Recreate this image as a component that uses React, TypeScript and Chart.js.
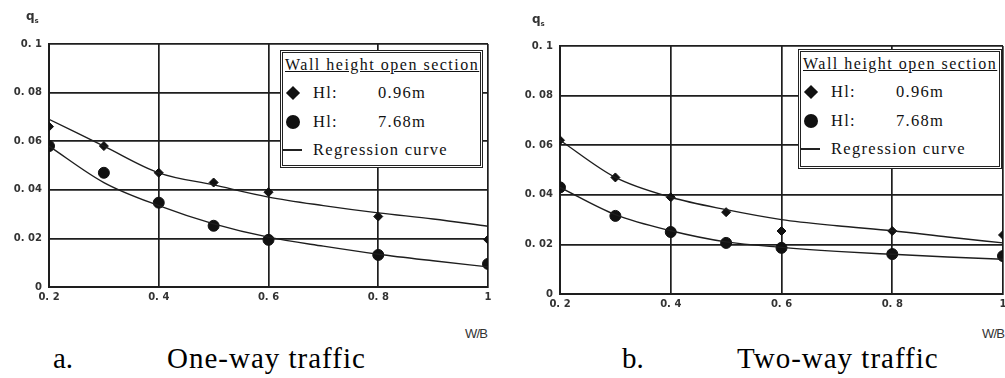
import React, { useEffect, useRef } from "react";
import { Chart, registerables } from "chart.js";
Chart.register(...registerables);

// ---- data ----
const xTicks = [0.2, 0.4, 0.6, 0.8, 1.0];
const xTickLabels = ["0. 2", "0. 4", "0. 6", "0. 8", "1"];
const yTicks = [0, 0.02, 0.04, 0.06, 0.08, 0.1];
const yTickLabels = ["0", "0. 02", "0. 04", "0. 06", "0. 08", "0. 1"];

const wb = [0.2, 0.3, 0.4, 0.5, 0.6, 0.8, 1.0];
const oneWayH096 = [0.066, 0.058, 0.047, 0.043, 0.039, 0.029, 0.0195];
const oneWayH768 = [0.058, 0.047, 0.0347, 0.0252, 0.0194, 0.0132, 0.0095];
const twoWayH096 = [0.062, 0.047, 0.039, 0.033, 0.0254, 0.0254, 0.0238];
const twoWayH768 = [0.043, 0.0315, 0.025, 0.0206, 0.0186, 0.0161, 0.0153];

const curveX = [0.2, 0.3, 0.4, 0.5, 0.6, 0.7, 0.8, 0.9, 1.0];
const oneWayFit096 = [0.069, 0.058, 0.047, 0.042, 0.037, 0.0335, 0.0305, 0.028, 0.025];
const oneWayFit768 = [0.058, 0.043, 0.0335, 0.026, 0.0205, 0.0168, 0.0135, 0.0108, 0.0083];
const twoWayFit096 = [0.062, 0.047, 0.039, 0.034, 0.030, 0.0275, 0.0255, 0.023, 0.0206];
const twoWayFit768 = [0.043, 0.032, 0.0255, 0.021, 0.0188, 0.0172, 0.016, 0.0149, 0.014];

const legendTitle = "Wall height open section";
const legendSeries = [
  { name: "Hl:", value: "0.96m" },
  { name: "Hl:", value: "7.68m" },
];
const legendCurve = "Regression curve";

const INK = "#1e1e1e";

type PanelProps = {
  h096: number[];
  h768: number[];
  fit096: number[];
  fit768: number[];
  left: number;
  width: number;
  height: number;
  axisW: number;
  top: number;
  xAxisH: number;
  right: number;
};

function ChartPanel(p: PanelProps) {
  const ref = useRef<HTMLCanvasElement | null>(null);
  useEffect(() => {
    if (!ref.current) return;
    const curve = (ys: number[]) => curveX.map((x, i) => ({ x, y: ys[i] }));
    const pts = (ys: number[]) => wb.map((x, i) => ({ x, y: ys[i] }));
    const chart = new Chart(ref.current, {
      type: "scatter",
      data: {
        datasets: [
          {
            label: "fit096",
            data: curve(p.fit096),
            showLine: true,
            pointRadius: 0,
            borderColor: INK,
            borderWidth: 1.4,
            tension: 0.4,
            cubicInterpolationMode: "monotone",
          },
          {
            label: "fit768",
            data: curve(p.fit768),
            showLine: true,
            pointRadius: 0,
            borderColor: INK,
            borderWidth: 1.4,
            tension: 0.4,
            cubicInterpolationMode: "monotone",
          },
          {
            label: "H 0.96m",
            data: pts(p.h096),
            showLine: false,
            pointStyle: "rectRot",
            pointRadius: 4.5,
            backgroundColor: "#111",
            borderColor: "#111",
          },
          {
            label: "H 7.68m",
            data: pts(p.h768),
            showLine: false,
            pointStyle: "circle",
            pointRadius: 5.5,
            backgroundColor: "#111",
            borderColor: "#111",
          },
        ],
      } as any,
      options: {
        responsive: false,
        animation: false,
        devicePixelRatio: 1,
        layout: { padding: { top: p.top, right: p.right, left: 0, bottom: 0 } },
        plugins: { legend: { display: false }, tooltip: { enabled: false } },
        scales: {
          x: {
            type: "linear",
            min: 0.2,
            max: 1.0,
            afterBuildTicks: (s: any) => {
              s.ticks = xTicks.map((v) => ({ value: v }));
            },
            afterFit: (s: any) => {
              s.height = p.xAxisH;
            },
            ticks: {
              callback: (_v: any, i: number) => xTickLabels[i],
              color: "#333",
              padding: 4,
              maxRotation: 0,
              autoSkip: false,
              font: { family: "DejaVu Sans", size: 10, weight: "bold" },
            },
            grid: { color: INK, lineWidth: 1.7, drawTicks: false },
            border: { display: true, color: INK, width: 2 },
          },
          y: {
            type: "linear",
            min: 0,
            max: 0.1,
            afterBuildTicks: (s: any) => {
              s.ticks = yTicks.map((v) => ({ value: v }));
            },
            afterFit: (s: any) => {
              s.width = p.axisW;
            },
            ticks: {
              callback: (_v: any, i: number) => yTickLabels[i],
              color: "#333",
              padding: 7,
              autoSkip: false,
              font: { family: "DejaVu Sans", size: 10, weight: "bold" },
            },
            grid: { color: INK, lineWidth: 1.7, drawTicks: false },
            border: { display: true, color: INK, width: 2 },
          },
        },
      } as any,
    });
    return () => chart.destroy();
  }, []);
  return (
    <canvas
      ref={ref}
      width={p.width}
      height={p.height}
      style={{ position: "absolute", left: p.left, top: 0, width: p.width, height: p.height }}
    />
  );
}

function Legend({ left, top, width, height }: { left: number; top: number; width: number; height: number }) {
  const txt: React.CSSProperties = {
    position: "absolute",
    fontFamily: "'Liberation Serif', serif",
    fontSize: 16.5,
    letterSpacing: 1.3,
    color: "#111",
    whiteSpace: "nowrap",
    lineHeight: "18px",
  };
  // row centres relative to the inner box
  const rowY = [40, 69];
  const curveY = 97;
  return (
    <div
      style={{
        position: "absolute",
        left,
        top,
        width,
        height,
        boxSizing: "border-box",
        border: "3px double #222",
        background: "#fff",
      }}
    >
      <div
        style={{
          ...txt,
          left: 2,
          top: 12 - 9,
          textDecoration: "underline",
          fontSize: 16,
          letterSpacing: 1.5,
        }}
      >
        {legendTitle}
      </div>
      {legendSeries.map((s, i) => (
        <React.Fragment key={i}>
          {i === 0 ? (
            <div
              style={{
                position: "absolute",
                left: 10 - 5,
                top: rowY[i] - 5,
                width: 10,
                height: 10,
                background: "#111",
                transform: "rotate(45deg)",
              }}
            />
          ) : (
            <div
              style={{
                position: "absolute",
                left: 10 - 7,
                top: rowY[i] - 7,
                width: 14,
                height: 14,
                borderRadius: "50%",
                background: "#111",
              }}
            />
          )}
          <div style={{ ...txt, left: 30, top: rowY[i] - 9 }}>{s.name}</div>
          <div style={{ ...txt, left: 95, top: rowY[i] - 9 }}>{s.value}</div>
        </React.Fragment>
      ))}
      <div style={{ position: "absolute", left: 0, top: curveY - 1, width: 19, height: 2, background: "#222" }} />
      <div style={{ ...txt, left: 30, top: curveY - 9 }}>{legendCurve}</div>
    </div>
  );
}

function AxisTitles({ qx, qy, wx, wy }: { qx: number; qy: number; wx: number; wy: number }) {
  return (
    <>
      <div
        style={{
          position: "absolute",
          left: qx,
          top: qy,
          fontFamily: "'DejaVu Sans', sans-serif",
          fontWeight: "bold",
          fontSize: 12,
          lineHeight: "12px",
          color: "#333",
        }}
      >
        q<sub style={{ fontSize: 7 }}>s</sub>
      </div>
      <div
        style={{
          position: "absolute",
          left: wx,
          top: wy,
          fontFamily: "'Liberation Sans', sans-serif",
          fontSize: 13,
          letterSpacing: -0.8,
          lineHeight: "13px",
          color: "#333",
        }}
      >
        W/B
      </div>
    </>
  );
}

export default function App() {
  const cap: React.CSSProperties = {
    position: "absolute",
    fontFamily: "'Liberation Serif', 'Times New Roman', serif",
    fontSize: 29,
    color: "#000",
    whiteSpace: "nowrap",
    lineHeight: "29px",
  };
  return (
    <div
      style={{
        position: "absolute",
        left: 0,
        top: 0,
        width: 1005,
        height: 378,
        background: "#fff",
        overflow: "hidden",
      }}
    >
      <ChartPanel
        h096={oneWayH096}
        h768={oneWayH768}
        fit096={oneWayFit096}
        fit768={oneWayFit768}
        left={0}
        width={500}
        height={320}
        axisW={49}
        top={44}
        xAxisH={33}
        right={12}
      />
      <ChartPanel
        h096={twoWayH096}
        h768={twoWayH768}
        fit096={twoWayFit096}
        fit768={twoWayFit768}
        left={500}
        width={530}
        height={320}
        axisW={60}
        top={46}
        xAxisH={26}
        right={27}
      />
      <Legend left={280} top={50} width={203} height={118} />
      <Legend left={798} top={49} width={204} height={120} />
      <AxisTitles qx={26} qy={10} wx={465} wy={327} />
      <AxisTitles qx={532} qy={13} wx={982} wy={327} />
      <div style={{ ...cap, left: 53, top: 344 }}>a.</div>
      <div style={{ ...cap, left: 167, top: 344, letterSpacing: 1 }}>One-way traffic</div>
      <div style={{ ...cap, left: 622, top: 344 }}>b.</div>
      <div style={{ ...cap, left: 737, top: 344, letterSpacing: 1 }}>Two-way traffic</div>
    </div>
  );
}
